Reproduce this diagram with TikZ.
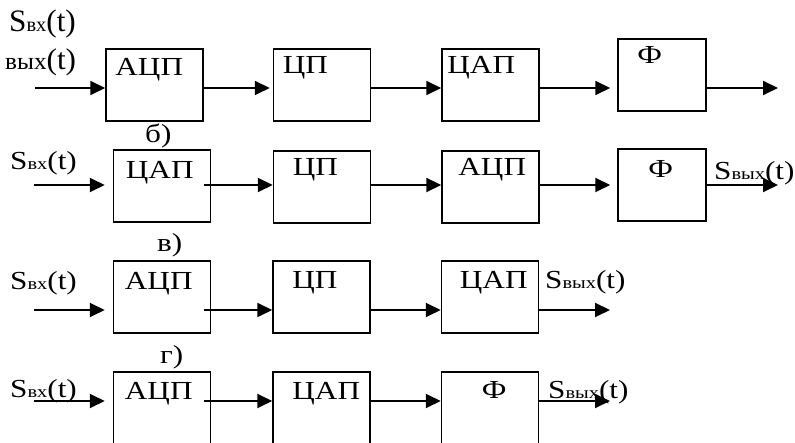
\documentclass[tikz,border=0pt]{standalone}
\usepackage{fontspec}
\setmainfont{Liberation Serif}[FakeStretch=1.2]
\usetikzlibrary{arrows.meta}
\newcommand\subsc[1]{{\fontsize{17}{17}\selectfont #1}}
\begin{document}
\begin{tikzpicture}[x=1pt, y=-1pt,
    blk/.style={draw, line width=1.5pt, minimum width=97pt, minimum height=72pt, inner sep=0pt},
    nm/.style={anchor=north west, inner sep=0pt, font=\fontsize{26}{26}\selectfont},
    sig/.style={anchor=base west, inner sep=0pt, font=\fontsize{26}{26}\selectfont},
    arr/.style={line width=2pt, -{Triangle[length=15pt,width=14pt]}}]
    \clip (0,0) rectangle (795,443);

    % а)
    \node[sig] (sin1) at (9,32) {\scalebox{1}[1.2]{S\subsc{вх}(t)}};
    \node[sig] (sout1) at (5,70) {\scalebox{1}[1.15]{{\fontsize{21}{21}\selectfont вых}(t)}};
    \node[blk, label={[nm, xshift=10pt, yshift=-10pt]north west:АЦП}] (a1) at (154.5,85) {};
    \node[blk, label={[nm, xshift=10pt, yshift=-8pt]north west:ЦП}] (b1) at (322,85) {};
    \node[blk, label={[nm, xshift=6pt, yshift=-8pt]north west:ЦАП}] (c1) at (490.5,85) {};
    \node[blk, minimum width=88pt, label={[nm, xshift=20pt, yshift=-8pt]north west:Ф}] (f1) at (662,75) {};
    \coordinate (in1) at (35,88);
    \coordinate (out1) at (778,88);
    \draw[arr] (in1) -- (in1 -| a1.west);
    \draw[arr, shorten >=3pt] (a1.east |- in1) -- (b1.west |- in1);
    \draw[arr] (b1.east |- in1) -- (c1.west |- in1);
    \draw[arr, shorten >=7pt] (c1.east |- in1) -- (f1.west |- in1);
    \draw[arr] (f1.east |- out1) -- (out1);

    % б)
    \node[sig] (lb) at (145,143) {б)};
    \node[sig] (sin2) at (10,170) {S\subsc{вх}(t)};
    \node[sig] (sout2) at (714,180) {S\subsc{вых}(t)};
    \node[blk, label={[nm, xshift=13pt, yshift=-12pt]north west:ЦАП}] (a2) at (162,186) {};
    \node[blk, label={[nm, xshift=20pt, yshift=-8pt]north west:ЦП}] (b2) at (322,187) {};
    \node[blk, label={[nm, xshift=17pt, yshift=-8pt]north west:АЦП}] (c2) at (490.5,187) {};
    \node[blk, minimum width=88pt, label={[nm, xshift=31pt, yshift=-12pt]north west:Ф}] (f2) at (662,185) {};
    \coordinate (in2) at (34,185);
    \coordinate (out2) at (778,185);
    \draw[arr, shorten >=8pt] (in2) -- (in2 -| a2.west);
    \draw[arr, shorten <=-7pt] (a2.east |- in2) -- (b2.west |- in2);
    \draw[arr] (b2.east |- in2) -- (c2.west |- in2);
    \draw[arr, shorten >=7pt] (c2.east |- in2) -- (f2.west |- in2);
    \draw[arr] (f2.east |- out2) -- (out2);

    % в)
    \node[sig] (lc) at (157,252) {в)};
    \node[sig] (sin3) at (10,290) {S\subsc{вх}(t)};
    \node[sig] (sout3) at (545,289) {S\subsc{вых}(t)};
    \node[blk, label={[nm, xshift=12pt, yshift=-12pt]north west:АЦП}] (a3) at (162,297) {};
    \node[blk, label={[nm, xshift=20pt, yshift=-11pt]north west:ЦП}] (b3) at (321.5,297) {};
    \node[blk, label={[nm, xshift=19pt, yshift=-11pt]north west:ЦАП}] (c3) at (490,297) {};
    \coordinate (in3) at (34,310);
    \coordinate (out3) at (610,310);
    \draw[arr, shorten >=8pt] (in3) -- (in3 -| a3.west);
    \draw[arr, shorten <=-7pt] (a3.east |- in3) -- (b3.west |- in3);
    \draw[arr] (b3.east |- in3) -- (c3.west |- in3);
    \draw[arr] (c3.east |- out3) -- (out3);

    % г)
    \node[sig] (ld) at (160,363) {г)};
    \node[sig] (sin4) at (10,398) {S\subsc{вх}(t)};
    \node[sig] (sout4) at (548,399) {S\subsc{вых}(t)};
    \node[blk, label={[nm, xshift=12pt, yshift=-11pt]north west:АЦП}] (a4) at (162,408) {};
    \node[blk, label={[nm, xshift=20pt, yshift=-11pt]north west:ЦАП}] (b4) at (321.5,408) {};
    \node[blk, label={[nm, xshift=41pt, yshift=-10pt]north west:Ф}] (c4) at (490,408) {};
    \coordinate (in4) at (34,401);
    \coordinate (out4) at (610,401);
    \draw[arr, shorten >=8pt] (in4) -- (in4 -| a4.west);
    \draw[arr, shorten <=-7pt] (a4.east |- in4) -- (b4.west |- in4);
    \draw[arr] (b4.east |- in4) -- (c4.west |- in4);
    \draw[arr] (c4.east |- out4) -- (out4);
\end{tikzpicture}
\end{document}
